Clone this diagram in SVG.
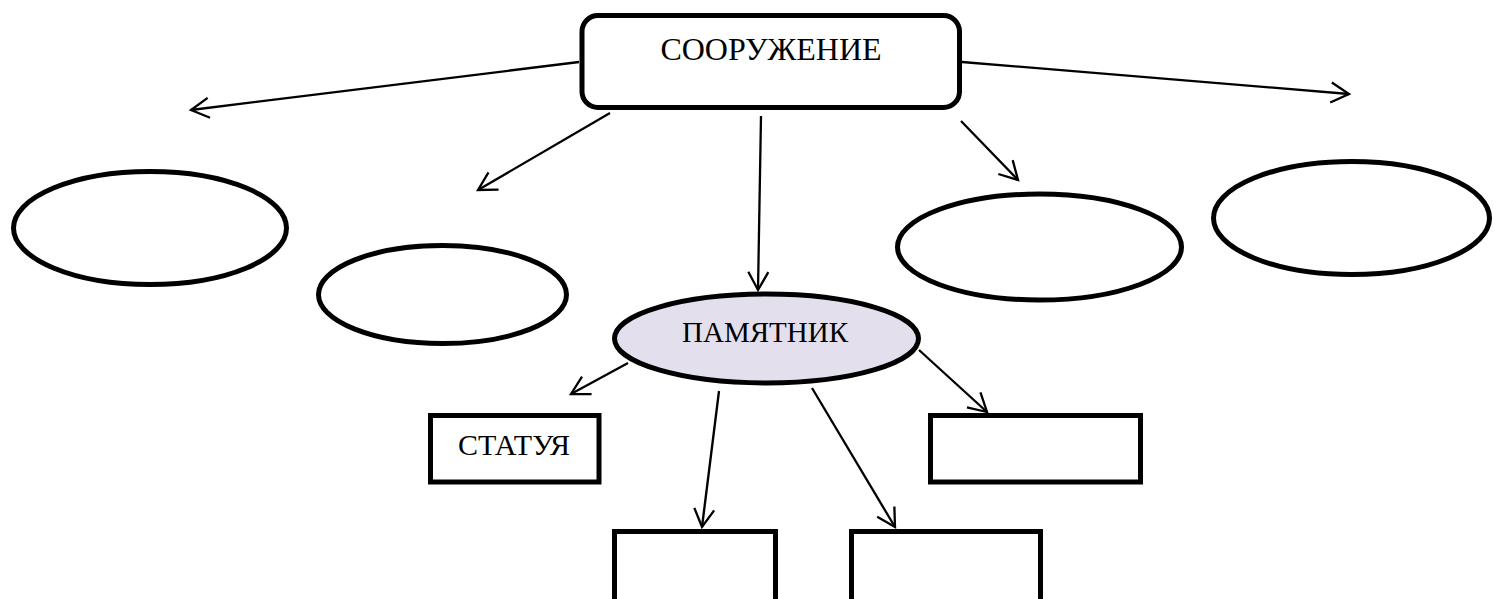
<svg xmlns="http://www.w3.org/2000/svg" width="1493" height="599" viewBox="0 0 1493 599">
  <style>
    .node { fill: #ffffff; stroke: #000000; stroke-width: 5; }
    .hl { fill: #e4dfec; }
    .conn { fill: none; stroke: #000000; stroke-width: 2.3; marker-end: url(#arrow); }
    .lbl { font-family: "Liberation Serif", "Times New Roman", serif; fill: #000000; text-anchor: middle; }
  </style>
  <defs>
    <marker id="arrow" markerUnits="userSpaceOnUse" markerWidth="24" markerHeight="24" refX="0" refY="0" viewBox="-20 -12 22 24" orient="auto" overflow="visible">
      <path d="M-18,-10 L0,0 L-18,10" fill="none" stroke="#000000" stroke-width="2.3" stroke-linejoin="miter"/>
    </marker>
  </defs>
  <rect width="1493" height="599" fill="#ffffff"/>

  <g id="connectors">
    <line class="conn" x1="579" y1="62" x2="191" y2="110"/>
    <line class="conn" x1="610" y1="113" x2="478" y2="190"/>
    <line class="conn" x1="761" y1="116" x2="758" y2="290"/>
    <line class="conn" x1="961" y1="121" x2="1018" y2="180"/>
    <line class="conn" x1="962" y1="62" x2="1349" y2="94"/>
    <line class="conn" x1="628" y1="363" x2="571" y2="394"/>
    <line class="conn" x1="719" y1="391" x2="702" y2="527"/>
    <line class="conn" x1="812" y1="388" x2="895" y2="527"/>
    <line class="conn" x1="919" y1="350" x2="987" y2="412"/>
  </g>

  <g id="node-sooruzhenie">
    <rect class="node" x="582" y="15.5" width="377.5" height="92" rx="16" ry="16"/>
    <text class="lbl" x="771" y="60" font-size="32">СООРУЖЕНИЕ</text>
  </g>

  <g id="node-ellipse-1">
    <ellipse class="node" cx="150" cy="228" rx="136.5" ry="56.5"/>
  </g>
  <g id="node-ellipse-2">
    <ellipse class="node" cx="442.5" cy="294.5" rx="124" ry="49"/>
  </g>
  <g id="node-ellipse-3">
    <ellipse class="node" cx="1039.5" cy="247" rx="142" ry="53"/>
  </g>
  <g id="node-ellipse-4">
    <ellipse class="node" cx="1351.5" cy="218" rx="138" ry="56.5"/>
  </g>

  <g id="node-pamyatnik">
    <ellipse class="node hl" cx="766.5" cy="338.5" rx="152" ry="44.5"/>
    <text class="lbl" x="765" y="342" font-size="29">ПАМЯТНИК</text>
  </g>

  <g id="node-statuya">
    <rect class="node" x="430.5" y="415.5" width="168.5" height="66.5"/>
    <text class="lbl" x="514" y="455" font-size="30">СТАТУЯ</text>
  </g>

  <g id="node-box-right">
    <rect class="node" x="930.5" y="415.5" width="210" height="66.5"/>
  </g>
  <g id="node-box-bottom-left">
    <rect class="node" x="614.5" y="531.5" width="161" height="100"/>
  </g>
  <g id="node-box-bottom-mid">
    <rect class="node" x="851.5" y="531.5" width="189" height="100"/>
  </g>
</svg>
